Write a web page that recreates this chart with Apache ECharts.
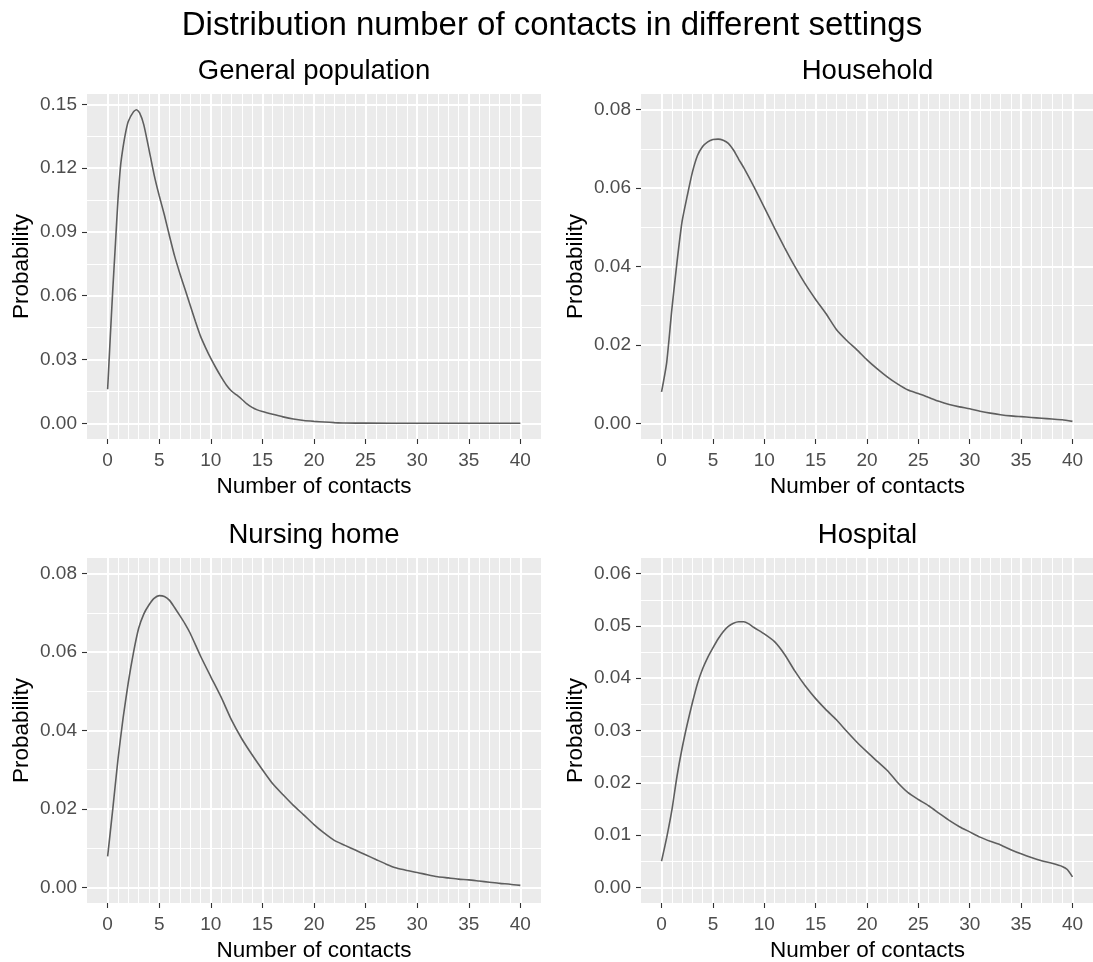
<!DOCTYPE html>
<html>
<head>
<meta charset="utf-8">
<script src="https://cdn.jsdelivr.net/npm/echarts@6/dist/echarts.min.js"></script>
<style>
html,body{margin:0;padding:0;background:#fff;}
#chart{width:1093px;height:962px;}
</style>
</head>
<body>
<div id="chart"></div>
<script>
// ---- data ----
const mainTitle = 'Distribution number of contacts in different settings';
const panelTitles = ['General population', 'Household', 'Nursing home', 'Hospital'];
const xTitle = 'Number of contacts';
const yTitle = 'Probability';

const xMajor = [0, 5, 10, 15, 20, 25, 30, 35, 40];
const xMinor = [1,2,3,4,6,7,8,9,11,12,13,14,16,17,18,19,21,22,23,24,26,27,28,29,31,32,33,34,36,37,38,39];

const yMajorGeneral = [0, 0.03, 0.06, 0.09, 0.12, 0.15];
const yMinorGeneral = [0.015, 0.045, 0.075, 0.105, 0.135];
const yMajor008 = [0, 0.02, 0.04, 0.06, 0.08];
const yMinor008 = [0.01, 0.03, 0.05, 0.07];
const yMajorHospital = [0, 0.01, 0.02, 0.03, 0.04, 0.05, 0.06];
const yMinorHospital = [0.005, 0.015, 0.025, 0.035, 0.045, 0.055];

const xGeneral = [0, 0.25, 0.5, 0.75, 1, 1.25, 1.5, 1.75, 2, 2.5, 2.8, 3.1, 3.5, 4, 4.5, 5, 5.5, 6, 6.5, 7, 7.5, 8, 8.5, 9, 9.5, 10, 10.5, 11, 11.5, 12, 12.5, 13, 13.5, 14, 14.5, 15, 16, 17, 18, 19, 20, 21, 22, 23, 25, 30, 35, 40];
const yGeneral = [0.016, 0.040, 0.063, 0.084, 0.105, 0.121, 0.130, 0.137, 0.142, 0.1465, 0.1475, 0.146, 0.1405, 0.129, 0.117, 0.107, 0.098, 0.088, 0.0785, 0.0705, 0.063, 0.0555, 0.048, 0.041, 0.0355, 0.0305, 0.026, 0.0218, 0.018, 0.0152, 0.0133, 0.0113, 0.0091, 0.0075, 0.0063, 0.0055, 0.0042, 0.003, 0.002, 0.0013, 0.0009, 0.0006, 0.0003, 0.0001, 0.00005, 0.00002, 0.00001, 0.00001];

const xHousehold = [0, 0.5, 1, 1.5, 2, 2.5, 3, 3.5, 4, 4.5, 5, 5.5, 6, 6.5, 7, 7.5, 8, 9, 10, 11, 12, 13, 14, 15, 16, 17, 18, 19, 20, 21, 22, 23, 24, 25, 26, 27, 28, 29, 30, 31, 32, 33, 34, 35, 36, 37, 38, 39, 40];
const yHousehold = [0.008, 0.0155, 0.029, 0.041, 0.0515, 0.058, 0.064, 0.0683, 0.0706, 0.0718, 0.0724, 0.0725, 0.0722, 0.0714, 0.0697, 0.0674, 0.0652, 0.0603, 0.0551, 0.0498, 0.0447, 0.0399, 0.0355, 0.0316, 0.0280, 0.0240, 0.0212, 0.0188, 0.0162, 0.0139, 0.0118, 0.0100, 0.0085, 0.0076, 0.0066, 0.0056, 0.0048, 0.0042, 0.0037, 0.0031, 0.0026, 0.0022, 0.0019, 0.0017, 0.0015, 0.0013, 0.0011, 0.0009, 0.0005];

const xNursing = [0, 0.5, 1, 1.5, 2, 2.5, 3, 3.5, 4, 4.5, 5, 5.5, 6, 6.5, 7, 7.5, 8, 9, 10, 11, 12, 13, 14, 15, 16, 17, 18, 19, 20, 21, 22, 23, 24, 25, 26, 27, 28, 29, 30, 31, 32, 33, 34, 35, 36, 37, 38, 39, 40];
const yNursing = [0.0079, 0.020, 0.0326, 0.0432, 0.0522, 0.0598, 0.0660, 0.0697, 0.0720, 0.0737, 0.0744, 0.0742, 0.0732, 0.0713, 0.0693, 0.0672, 0.0648, 0.0590, 0.0537, 0.0485, 0.0427, 0.0379, 0.0338, 0.0300, 0.0264, 0.0236, 0.0209, 0.0185, 0.0160, 0.0138, 0.0119, 0.0107, 0.0095, 0.0083, 0.0071, 0.0059, 0.0049, 0.0043, 0.0038, 0.0032, 0.0027, 0.0024, 0.0021, 0.0019, 0.0016, 0.0013, 0.0010, 0.0008, 0.0005];

const xHospital = [0, 0.5, 1, 1.5, 2, 2.5, 3, 3.5, 4, 4.5, 5, 5.5, 6, 6.5, 7, 7.5, 8, 8.5, 9, 10, 11, 12, 13, 14, 15, 16, 17, 18, 19, 20, 21, 22, 23, 24, 25, 26, 27, 28, 29, 30, 31, 32, 33, 34, 35, 36, 37, 38, 39, 39.5, 40];
const yHospital = [0.005, 0.0095, 0.0147, 0.0212, 0.0266, 0.0312, 0.0353, 0.0390, 0.0418, 0.0440, 0.0458, 0.0475, 0.0489, 0.0499, 0.0505, 0.0508, 0.0508, 0.0504, 0.0497, 0.0485, 0.0470, 0.0445, 0.0413, 0.0385, 0.0361, 0.0340, 0.0321, 0.0299, 0.0278, 0.0259, 0.0241, 0.0223, 0.0200, 0.0181, 0.0168, 0.0156, 0.0142, 0.0128, 0.0116, 0.0106, 0.0096, 0.0088, 0.0081, 0.0072, 0.0064, 0.0057, 0.0051, 0.0046, 0.0040, 0.0034, 0.0020];

// ---- layout ----
const FONT = '"Liberation Sans", Arial, sans-serif';
const grids = [
  {left: 87, top: 94, width: 454, height: 345},
  {left: 641, top: 94, width: 453, height: 345},
  {left: 87, top: 558, width: 454, height: 345},
  {left: 641, top: 558, width: 453, height: 345}
];
const panels = [
  {x: xGeneral, y: yGeneral, yMin: -0.0074, yMax: 0.1549, yMaj: yMajorGeneral, yMin2: yMinorGeneral},
  {x: xHousehold, y: yHousehold, yMin: -0.004, yMax: 0.084, yMaj: yMajor008, yMin2: yMinor008},
  {x: xNursing, y: yNursing, yMin: -0.004, yMax: 0.084, yMaj: yMajor008, yMin2: yMinor008},
  {x: xHospital, y: yHospital, yMin: -0.003, yMax: 0.063, yMaj: yMajorHospital, yMin2: yMinorHospital}
];

const xAxes = [], yAxes = [], series = [], graphic = [];
panels.forEach((p, i) => {
  xAxes.push({
    type: 'value', gridIndex: i, min: -2, max: 42, position: 'bottom',
    axisLine: {show: false, onZero: false},
    axisTick: {show: true, length: 5, lineStyle: {color: '#333333', width: 1.1}, customValues: xMajor},
    axisLabel: {customValues: xMajor, color: '#4D4D4D', fontSize: 19, margin: 12, fontFamily: FONT},
    splitLine: {show: true, lineStyle: {color: '#FFFFFF', width: 2}}
  });
  xAxes.push({
    type: 'value', gridIndex: i, min: -2, max: 42, position: 'top',
    axisLine: {show: false, onZero: false},
    axisTick: {show: false, customValues: xMinor},
    axisLabel: {show: false, customValues: xMinor},
    splitLine: {show: true, lineStyle: {color: '#FFFFFF', width: 1}}
  });
  yAxes.push({
    type: 'value', gridIndex: i, min: p.yMin, max: p.yMax, position: 'left',
    axisLine: {show: false, onZero: false},
    axisTick: {show: true, length: 5, lineStyle: {color: '#333333', width: 1.1}, customValues: p.yMaj},
    axisLabel: {customValues: p.yMaj, color: '#4D4D4D', fontSize: 19, margin: 10, fontFamily: FONT,
      formatter: v => Number(v).toFixed(2)},
    splitLine: {show: true, lineStyle: {color: '#FFFFFF', width: 2}}
  });
  yAxes.push({
    type: 'value', gridIndex: i, min: p.yMin, max: p.yMax, position: 'right',
    axisLine: {show: false, onZero: false},
    axisTick: {show: false, customValues: p.yMin2},
    axisLabel: {show: false, customValues: p.yMin2},
    splitLine: {show: true, lineStyle: {color: '#FFFFFF', width: 1}}
  });
  series.push({
    type: 'line', xAxisIndex: 2 * i, yAxisIndex: 2 * i,
    data: p.x.map((xv, k) => [xv, p.y[k]]),
    showSymbol: false, symbol: 'none', smooth: 0.2,
    lineStyle: {color: '#5E5E5E', width: 1.6},
    silent: true, z: 10
  });
  const g = grids[i];
  const cx = g.left + g.width / 2;
  graphic.push({type: 'text', x: cx, y: g.top - 23, style: {text: panelTitles[i], font: '27.5px ' + FONT, fill: '#000', align: 'center', verticalAlign: 'middle'}});
  graphic.push({type: 'text', x: cx, y: g.top + g.height + 48, style: {text: xTitle, font: '22.5px ' + FONT, fill: '#000', align: 'center', verticalAlign: 'middle'}});
  graphic.push({type: 'text', x: g.left - 65, y: g.top + g.height / 2, rotation: Math.PI / 2, style: {text: yTitle, font: '22.5px ' + FONT, fill: '#000', align: 'center', verticalAlign: 'middle'}});
});
graphic.push({type: 'text', x: 552, y: 26, style: {text: mainTitle, font: '33px ' + FONT, fill: '#000', align: 'center', verticalAlign: 'middle'}});

const chart = echarts.init(document.getElementById('chart'), null, {renderer: 'canvas'});
chart.setOption({
  animation: false,
  backgroundColor: '#FFFFFF',
  grid: grids.map(g => Object.assign({show: true, backgroundColor: '#EBEBEB', borderWidth: 0, containLabel: false}, g)),
  xAxis: xAxes,
  yAxis: yAxes,
  series: series,
  graphic: graphic
});
</script>
</body>
</html>
